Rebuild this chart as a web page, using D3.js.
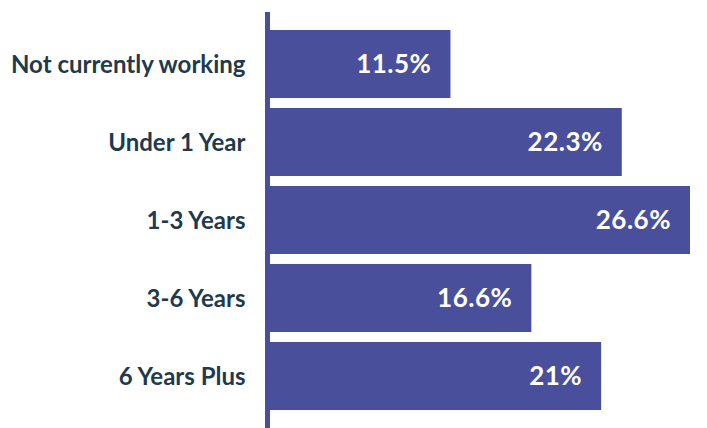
<!DOCTYPE html>
<html>
<head>
<meta charset="utf-8">
<script src="https://cdn.jsdelivr.net/npm/d3@7"></script>
<style>
    body { margin: 0; background: #fff; }
    svg { display: block; }
</style>
</head>
<body>
<div id="chart"></div>
<script>
// categories and values
const categories = ["Not currently working", "Under 1 Year", "1-3 Years", "3-6 Years", "6 Years Plus"];
const values = [11.5, 22.3, 26.6, 16.6, 21];
const valueLabels = ["11.5%", "22.3%", "26.6%", "16.6%", "21%"];

const width = 707, height = 428;
const barColor = "#4a4f9c";
const textColor = "#1f3a4b";

const data = categories.map((c, i) => ({ cat: c, value: values[i], label: valueLabels[i] }));

const svg = d3.select("#chart").append("svg")
    .attr("width", width)
    .attr("height", height);

// x scale: bar start just right of the axis line
const x = d3.scaleLinear()
    .domain([0, 26.6])
    .range([268, 690]);

const y = d3.scaleBand()
    .domain(categories)
    .range([25, 415])
    .paddingInner(0.128)
    .paddingOuter(0.064);

// bars
svg.selectAll(".bar")
    .data(data)
    .enter().append("rect")
    .attr("class", "bar")
    .attr("x", x(0))
    .attr("y", d => y(d.cat))
    .attr("width", d => x(d.value) - x(0))
    .attr("height", y.bandwidth())
    .attr("fill", barColor);

// value labels inside bars
svg.selectAll(".val")
    .data(data)
    .enter().append("text")
    .attr("class", "val")
    .attr("x", d => x(d.value) - 19)
    .attr("y", d => y(d.cat) + y.bandwidth() / 2)
    .attr("dy", "0.36em")
    .attr("text-anchor", "end")
    .attr("fill", "#fff")
    .style("font-family", "Lato, sans-serif")
    .style("font-weight", "bold")
    .style("font-size", "26px")
    .style("letter-spacing", "0.5px")
    .text(d => d.label);

// category axis (left), thick line, no ticks
const yAxis = svg.append("g")
    .attr("transform", "translate(267.5,0)")
    .call(d3.axisLeft(y).tickSize(0).tickPadding(22));

yAxis.select(".domain").remove();
yAxis.append("line")
    .attr("x1", 0).attr("x2", 0)
    .attr("y1", 12).attr("y2", height)
    .attr("stroke", barColor)
    .attr("stroke-width", 5);

yAxis.selectAll(".tick text")
    .attr("fill", textColor)
    .attr("dy", "0.36em")
    .style("font-family", "Lato, sans-serif")
    .style("font-weight", "bold")
    .style("font-size", "24px");
</script>
</body>
</html>
